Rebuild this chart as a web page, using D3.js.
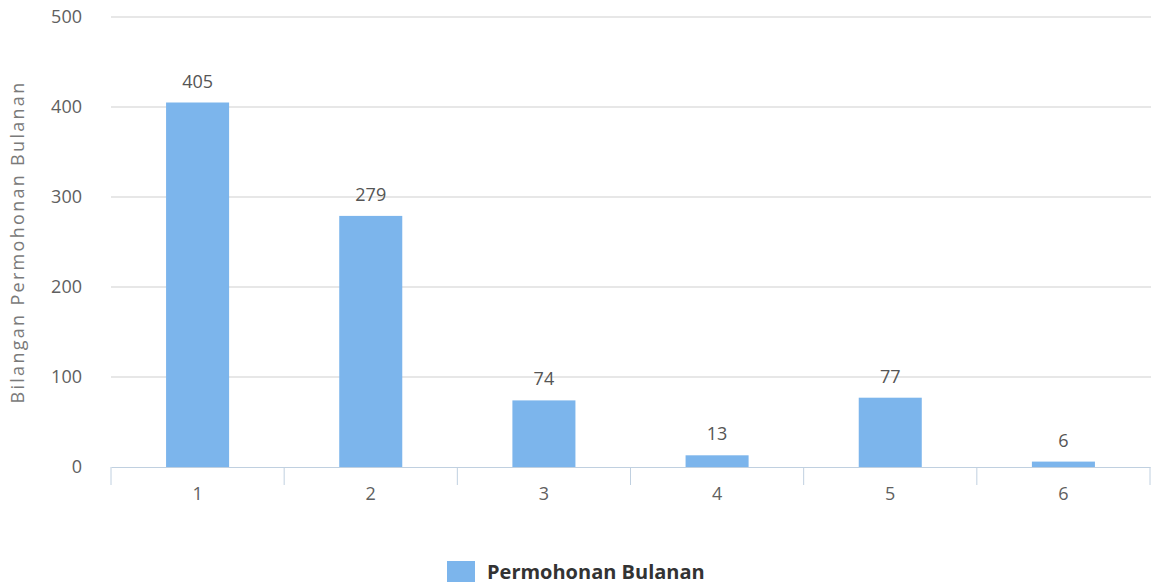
<!DOCTYPE html>
<html>
  <head>
    <meta charset="utf-8">
    <title>Permohonan Bulanan</title>
    <style>
      body { margin: 0; background: #fff; }
      text { font-family: "Open Sans", sans-serif; }
    </style>
  </head>
  <body>
    <div id="container"></div>
    <script src="https://cdn.jsdelivr.net/npm/d3@7/dist/d3.min.js"></script>
    <script>
      var categories = ["1", "2", "3", "4", "5", "6"];
      var values = [405, 279, 74, 13, 77, 6];
      var yTicks = [0, 100, 200, 300, 400, 500];
      var seriesName = "Permohonan Bulanan";
      var axisTitle = "Bilangan Permohonan Bulanan";

      var W = 1151, H = 586;
      var margin = {top: 17, right: 0, bottom: 119, left: 111};
      var width = 1150 - margin.left,
          height = H - margin.top - margin.bottom;

      var svg = d3.select("#container").append("svg")
          .attr("width", W)
          .attr("height", H);
      var g = svg.append("g")
          .attr("transform", "translate(" + margin.left + "," + margin.top + ")");

      var x = d3.scaleBand().domain(categories).range([0, width]).padding(0);
      var y = d3.scaleLinear().domain([0, 500]).range([height, 0]);
      var barW = x.bandwidth() * 0.364;

      // gridlines
      g.selectAll(".grid")
          .data(yTicks.slice(1))
        .enter().append("line")
          .attr("x1", 0).attr("x2", W - margin.left)
          .attr("y1", function(d) { return y(d); })
          .attr("y2", function(d) { return y(d); })
          .attr("stroke", "#cfcfcf")
          .attr("stroke-width", 1);

      // y axis labels
      var yAxis = g.append("g")
          .call(d3.axisLeft(y).tickValues(yTicks).tickSize(0).tickPadding(29));
      yAxis.select(".domain").remove();
      yAxis.selectAll("text")
          .attr("fill", "#606060")
          .style("font-size", "18px")
          .style("font-family", "'Open Sans', sans-serif");

      // bars
      g.selectAll(".bar")
          .data(values)
        .enter().append("rect")
          .attr("x", function(d, i) { return x(categories[i]) + (x.bandwidth() - barW) / 2; })
          .attr("y", function(d) { return y(d); })
          .attr("width", barW)
          .attr("height", function(d) { return height - y(d); })
          .attr("fill", "#7cb5ec");

      // data labels
      g.selectAll(".lbl")
          .data(values)
        .enter().append("text")
          .attr("x", function(d, i) { return x(categories[i]) + x.bandwidth() / 2; })
          .attr("y", function(d) { return y(d) - 15; })
          .attr("text-anchor", "middle")
          .attr("fill", "#555")
          .style("font-size", "18px")
          .text(function(d) { return d; });

      // x axis
      var xAxis = g.append("g")
          .attr("transform", "translate(0," + height + ")")
          .call(d3.axisBottom(x).tickSize(0).tickPadding(20));
      xAxis.select(".domain").attr("stroke", "#c0d0e0");
      xAxis.selectAll("text")
          .attr("fill", "#606060")
          .style("font-size", "18px")
          .style("font-family", "'Open Sans', sans-serif");

      var bounds = categories.map(function(c) { return x(c); }).concat([width]);
      xAxis.selectAll(".sep")
          .data(bounds)
        .enter().append("line")
          .attr("x1", function(d) { return d; })
          .attr("x2", function(d) { return d; })
          .attr("y1", 0).attr("y2", 18)
          .attr("stroke", "#c0d0e0");

      // y axis title
      svg.append("text")
          .attr("transform", "translate(24," + (margin.top + height / 2) + ") rotate(-90)")
          .attr("text-anchor", "middle")
          .attr("fill", "#7a7a7a")
          .style("font-size", "18px")
          .style("letter-spacing", "2.3px")
          .text(axisTitle);

      // legend
      var legend = svg.append("g").attr("transform", "translate(447,561)");
      legend.append("rect")
          .attr("width", 28).attr("height", 21)
          .attr("fill", "#7cb5ec");
      legend.append("text")
          .attr("x", 40).attr("y", 18)
          .attr("fill", "#333")
          .style("font-size", "20px")
          .style("font-weight", "bold")
          .text(seriesName);
    </script>
  </body>
</html>
